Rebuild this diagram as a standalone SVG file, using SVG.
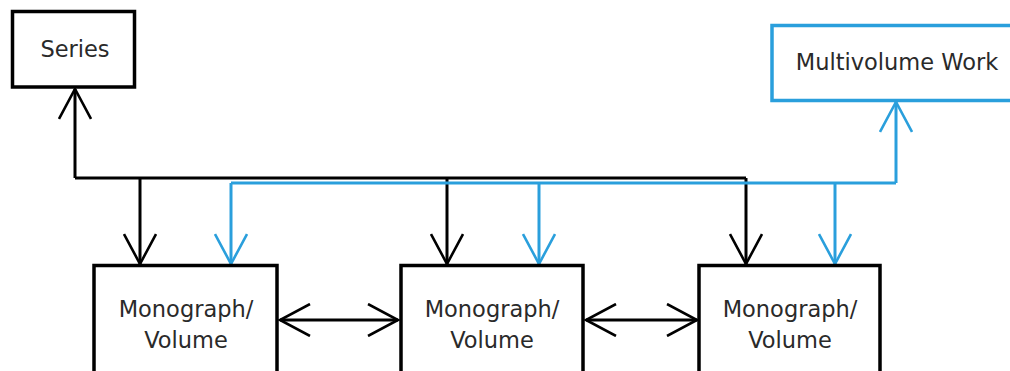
<svg xmlns="http://www.w3.org/2000/svg" width="1010" height="371" viewBox="0 0 1010 371">
  <style>
    .box { fill: #ffffff; stroke: #000000; stroke-width: 3.5; }
    .bluebox { fill: #ffffff; stroke: #2a9fdc; stroke-width: 3.5; }
    .lbl { font-family: "DejaVu Sans", Verdana, sans-serif; font-size: 22.5px; fill: #2a2a2a; text-anchor: middle; }
    .blk { fill: none; stroke: #000000; stroke-width: 3; }
    .blu { fill: none; stroke: #2a9fdc; stroke-width: 3; }
  </style>
  <defs>
    <marker id="ahBlack" viewBox="0 0 34 34" refX="31" refY="17" markerWidth="34" markerHeight="34" markerUnits="userSpaceOnUse" orient="auto-start-reverse">
      <path d="M1,1 L31,17 L1,33" fill="none" stroke="#000000" stroke-width="2.6"/>
    </marker>
    <marker id="ahBlue" viewBox="0 0 34 34" refX="31" refY="17" markerWidth="34" markerHeight="34" markerUnits="userSpaceOnUse" orient="auto-start-reverse">
      <path d="M1,1 L31,17 L1,33" fill="none" stroke="#2a9fdc" stroke-width="2.6"/>
    </marker>
  </defs>
  <rect width="1010" height="371" fill="#ffffff"/>

  <g id="connectors">
    <path class="blk" d="M75,178 V178 H746"/>
    <path class="blk" d="M75,178 V89" marker-end="url(#ahBlack)"/>
    <path class="blk" d="M140,178 V264" marker-end="url(#ahBlack)"/>
    <path class="blk" d="M447,178 V264" marker-end="url(#ahBlack)"/>
    <path class="blk" d="M746,178 V264" marker-end="url(#ahBlack)"/>
    <path class="blu" d="M231,183 H896"/>
    <path class="blu" d="M896,183 V102" marker-end="url(#ahBlue)"/>
    <path class="blu" d="M231,183 V264" marker-end="url(#ahBlue)"/>
    <path class="blu" d="M539,183 V264" marker-end="url(#ahBlue)"/>
    <path class="blu" d="M835,183 V264" marker-end="url(#ahBlue)"/>
    <path class="blk" d="M280,320 H398" marker-start="url(#ahBlack)" marker-end="url(#ahBlack)"/>
    <path class="blk" d="M586,320 H697" marker-start="url(#ahBlack)" marker-end="url(#ahBlack)"/>
  </g>

  <g id="series">
    <rect class="box" x="12.5" y="11.5" width="122" height="75.5"/>
    <text class="lbl" x="75" y="57">Series</text>
  </g>

  <g id="multivolume">
    <rect class="bluebox" x="772" y="25.5" width="260" height="75"/>
    <text class="lbl" x="897" y="70">Multivolume Work</text>
  </g>

  <g id="mono1">
    <rect class="box" x="94" y="265.5" width="183" height="140"/>
    <text class="lbl" x="186" y="317">Monograph/</text>
    <text class="lbl" x="186" y="348">Volume</text>
  </g>

  <g id="mono2">
    <rect class="box" x="401" y="265.5" width="182" height="140"/>
    <text class="lbl" x="492" y="317">Monograph/</text>
    <text class="lbl" x="492" y="348">Volume</text>
  </g>

  <g id="mono3">
    <rect class="box" x="699" y="265.5" width="181" height="140"/>
    <text class="lbl" x="790" y="317">Monograph/</text>
    <text class="lbl" x="790" y="348">Volume</text>
  </g>
</svg>
